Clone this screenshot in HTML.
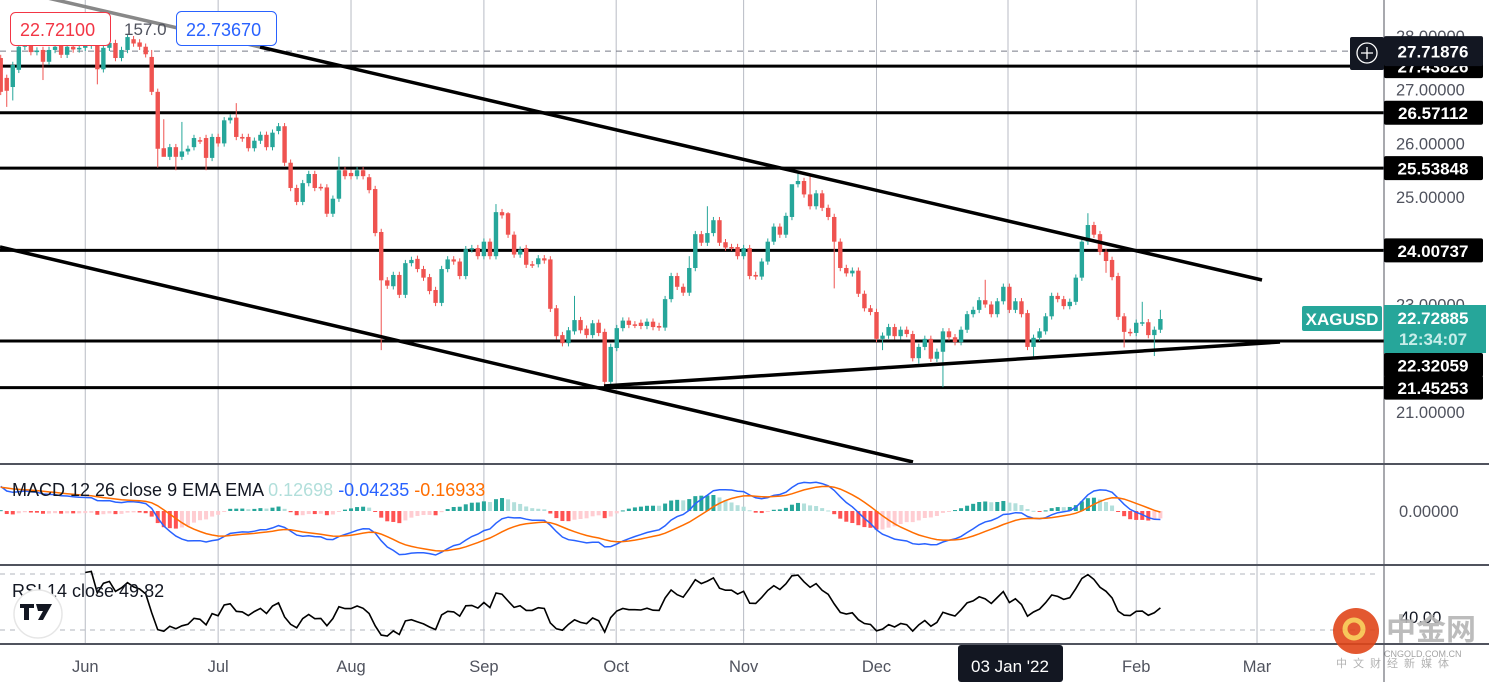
<!DOCTYPE html>
<html><head><meta charset="utf-8"><style>
html,body{margin:0;padding:0;background:#fff;}
svg{display:block;font-family:"Liberation Sans","Noto Sans CJK SC",sans-serif;}
</style></head><body>
<svg id="chart" width="1489" height="682" viewBox="0 0 1489 682" xmlns="http://www.w3.org/2000/svg">
<rect x="0" y="0" width="1489" height="682" fill="#ffffff"/>
<g id="grid"></g>
<g id="levels"></g>
<g id="candles"></g>
<g id="trend"></g>
<g id="macd"></g>
<g id="rsi"></g>
<g id="axis"></g>
<g id="timeaxis"></g>
<g id="overlay"></g>
</svg>
<script>
const opens=[27.59,27.22,27.05,27.37,27.80,27.83,27.70,27.74,27.52,27.74,27.83,27.65,27.80,27.75,27.78,27.82,27.87,27.38,27.78,27.87,27.59,27.74,27.94,27.88,27.80,
27.61,26.96,25.91,25.75,25.93,25.75,25.85,25.93,26.06,26.10,25.73,26.12,26.00,26.43,26.48,26.12,26.12,25.91,26.05,26.16,25.93,26.23,26.32,25.64,25.17,24.91,25.26,25.43,25.19,25.18,24.69,24.97,25.50,25.45,25.39,25.50,25.37,25.15,24.35,
23.45,23.34,23.55,23.18,23.77,23.85,23.66,23.51,23.27,23.03,23.66,23.84,23.80,23.53,24.03,24.05,23.90,24.17,23.90,24.72,24.70,24.30,23.93,24.05,23.75,23.75,23.86,23.84,22.93,22.43,22.28,22.50,22.71,22.55,22.43,22.66,22.49,21.56,22.19,22.56,22.70,22.63,22.66,22.60,22.68,22.60,22.57,23.10,23.53,23.33,23.22,23.68,24.31,24.15,24.33,24.57,24.16,24.07,24.07,23.90,24.05,23.55,23.52,23.80,
24.17,24.45,24.30,24.63,25.24,25.30,25.05,24.83,25.07,24.80,24.63,24.17,23.68,23.58,23.63,23.20,22.93,22.86,22.36,22.42,22.58,22.41,22.53,22.45,22.00,22.21,22.36,21.99,22.12,22.50,22.39,22.30,22.53,22.82,22.90,23.08,23.00,22.82,23.06,23.33,22.90,23.06,22.84,22.21,22.38,22.50,22.78,23.16,23.10,22.97,23.05,23.50,24.17,24.48,24.31,23.98,23.83,23.53,22.78,22.49,22.47,22.66,22.67,22.43,22.53];
const closes=[26.96,26.98,27.46,27.80,27.88,27.70,27.73,27.52,27.74,27.80,27.65,27.80,27.75,27.78,27.82,27.87,27.38,27.78,27.87,27.59,27.74,27.98,27.86,27.80,27.66,
26.96,25.90,25.75,25.93,25.75,25.85,25.90,26.10,26.05,25.73,26.12,26.00,26.43,26.48,26.12,26.09,25.91,26.05,26.16,25.93,26.20,26.32,25.64,25.17,24.91,25.26,25.43,25.17,25.18,24.69,24.97,25.50,25.39,25.39,25.50,25.39,25.13,24.33,23.45,
23.35,23.55,23.18,23.77,23.83,23.66,23.50,23.25,23.03,23.66,23.84,23.80,23.53,24.03,24.05,23.90,24.17,23.90,24.72,24.66,24.30,23.93,24.02,23.74,23.74,23.86,23.82,22.92,22.41,22.28,22.52,22.71,22.52,22.43,22.65,22.47,21.56,22.21,22.56,22.70,22.62,22.62,22.60,22.68,22.58,22.57,23.10,23.53,23.33,23.22,23.68,24.31,24.15,24.33,24.57,24.15,24.06,24.06,23.90,24.05,23.53,23.52,23.80,24.17,
24.45,24.30,24.65,25.24,25.30,25.05,24.83,25.07,24.80,24.63,24.17,23.68,23.58,23.63,23.20,22.93,22.86,22.36,22.42,22.58,22.41,22.53,22.45,22.00,22.21,22.36,21.99,22.12,22.50,22.39,22.30,22.53,22.82,22.90,23.08,23.00,22.82,23.06,23.33,22.90,23.06,22.82,22.21,22.38,22.50,22.78,23.16,23.10,22.97,23.05,23.50,24.17,24.48,24.30,23.98,23.81,23.51,22.77,22.49,22.47,22.66,22.67,22.43,22.53,22.73];
// notable wick extremes (index -> price); other candles use a small default wick
const highMarks={25:27.74,27:26.45,30:26.40,39:26.75,56:25.75,82:24.87,84:24.72,95:23.16,114:23.90,117:24.83,131:25.15,132:25.45,134:25.40,163:23.46,180:24.70,189:23.05,192:22.90};
const lowMarks={1:26.68,2:26.80,7:27.18,16:27.10,26:25.55,27:25.77,29:25.50,34:25.50,63:22.15,100:21.48,101:21.50,138:23.30,146:22.15,152:21.90,156:21.46,171:22.02,183:23.59,186:22.20,191:22.04};
const levelPrices=[27.43826,26.57112,25.53848,24.00737,22.32059,21.45253];
const levelLabels=["27.43826","26.57112","25.53848","24.00737","22.32059","21.45253"];
const priceTicks=[28,27,26,25,23,21];
const monthLabels=["Jun","Jul","Aug","Sep","Oct","Nov","Dec","Feb","Mar"];
const monthIdx=[14,36,58,80,101.9,123,145,188,208];

const NS="http://www.w3.org/2000/svg";
function el(tag,attrs,parent,txt){const e=document.createElementNS(NS,tag);for(const k in attrs)e.setAttribute(k,attrs[k]);if(txt!==undefined)e.textContent=txt;parent.appendChild(e);return e;}
const xI=i=>0.7+i*6.04;
const yP=p=>36+(28-p)*53.7;
const AX=1384;

// grid
const grid=document.getElementById('grid');
monthIdx.forEach((m,k)=>{
  const l=el('line',{x1:xI(m),x2:xI(m),y1:0,y2:644,stroke:'#b8bbc4','stroke-width':1},grid);
  
  
});
const gj=el('line',{x1:1008,x2:1008,y1:0,y2:644,stroke:'#b8bbc4','stroke-width':1},grid);



// levels
const lv=document.getElementById('levels');
const dash=el('line',{x1:0,x2:1350,y1:yP(27.71876),y2:yP(27.71876),stroke:'#787b86','stroke-width':1,'stroke-dasharray':'6,5'},lv);


levelPrices.forEach((p,k)=>{
  const l=el('line',{x1:0,x2:AX,y1:yP(p),y2:yP(p),stroke:'#000','stroke-width':3},lv);
  
  
});

// candles
const cg=document.getElementById('candles');
closes.forEach((c,i)=>{
  const o=opens[i];
  const hi=highMarks[i]!==undefined?highMarks[i]:Math.max(o,c)+0.06;
  const lo=lowMarks[i]!==undefined?lowMarks[i]:Math.min(o,c)-0.06;
  const col=c>=o?'#26a69a':'#ef5350';
  const x=xI(i);
  const g=el('g',{},cg);
  
  
  el('line',{x1:x,x2:x,y1:yP(hi),y2:yP(lo),stroke:col,'stroke-width':1},g);
  const y1=yP(Math.max(o,c)),y2=yP(Math.min(o,c));
  el('rect',{x:x-2.2,y:y1,width:4.4,height:Math.max(1.5,y2-y1),fill:col},g);
});

// trendlines
const tg=document.getElementById('trend');
const t1a=el('line',{x1:0,y1:-13,x2:260,y2:47,stroke:'#888','stroke-width':3.5},tg);


const t1=el('line',{x1:260,y1:47,x2:1262,y2:280,stroke:'#000','stroke-width':3.5},tg);


const t2=el('line',{x1:0,y1:247,x2:913,y2:462,stroke:'#000','stroke-width':3.5},tg);


const t3=el('line',{x1:604,y1:386,x2:1280,y2:342,stroke:'#000','stroke-width':3.5},tg);



// MACD
const mg=document.getElementById('macd');
let e12=27.6,e26=27.15,sig=0.35;const macdV=[],sigV=[],histV=[];
closes.forEach(c=>{e12+= (c-e12)*2/13;e26+=(c-e26)*2/27;const m=e12-e26;sig+=(m-sig)*0.2;macdV.push(m);sigV.push(sig);histV.push(m-sig);});
const mMin=Math.min(...macdV,...sigV),mMax=Math.max(...macdV,...sigV);
const mk=Math.min(44/Math.abs(Math.min(mMin,-0.01)),30/Math.max(mMax,0.01));
const yM=v=>511-v*mk;
histV.forEach((h,i)=>{
  const prev=i>0?histV[i-1]:h;
  let col;
  if(h>=0)col=h>=prev?'#26a69a':'#b2dfdb';else col=h<prev?'#ff5252':'#ffcdd2';
  const y0=yM(0),y1=yM(h);
  const r=el('rect',{x:xI(i)-2,y:Math.min(y0,y1),width:4,height:Math.max(1,Math.abs(y1-y0)),fill:col},mg);
  
  
});
const pth=arr=>arr.map((v,i)=>(i?'L':'M')+xI(i).toFixed(1)+','+yM(v).toFixed(1)).join('');
const ml=el('path',{d:pth(macdV),fill:'none',stroke:'#2962ff','stroke-width':1.5},mg);


const sl=el('path',{d:pth(sigV),fill:'none',stroke:'#ff6d00','stroke-width':1.5},mg);


const mleg=el('text',{x:12,y:496,'font-size':18,fill:'#131722'},mg);


el('tspan',{},mleg,'MACD 12 26 close 9 EMA EMA ');
el('tspan',{fill:'#b2dfdb'},mleg,' 0.12698 ');
el('tspan',{fill:'#2962ff'},mleg,' -0.04235 ');
el('tspan',{fill:'#ff6d00'},mleg,' -0.16933');

// RSI
const rg=document.getElementById('rsi');
const yR=v=>574+(70-v)*1.4;
[70,30].forEach(v=>{
  const l=el('line',{x1:0,x2:AX-4,y1:yR(v),y2:yR(v),stroke:'#b2b5be','stroke-width':1,'stroke-dasharray':'5,5'},rg);
  
  
});
let ag=0,al=0;const rsiV=[];
for(let i=1;i<closes.length;i++){
  const d=closes[i]-closes[i-1];const g=Math.max(d,0),l=Math.max(-d,0);
  if(i<=14){ag+=g/14;al+=l/14;if(i===14)rsiV.push([i,100-100/(1+ag/Math.max(al,1e-6))]);}
  else{ag=(ag*13+g)/14;al=(al*13+l)/14;rsiV.push([i,100-100/(1+ag/Math.max(al,1e-6))]);}
}
const rl=el('path',{d:rsiV.map((p,k)=>(k?'L':'M')+xI(p[0]).toFixed(1)+','+yR(p[1]).toFixed(1)).join(''),fill:'none',stroke:'#000','stroke-width':1.6},rg);


const rleg=el('text',{x:12,y:597,'font-size':18,fill:'#131722'},rg,'RSI 14 close  49.82');


const tvc=el('circle',{cx:38,cy:614,r:24,fill:'#fff',stroke:'#e6e6e6','stroke-width':1.5},rg);


el('path',{d:'M20,604h14v4h-5v12h-5v-12h-4z M36,604h16l-9,16h-5l5-9h-5z',fill:'#131722'},rg);

// separators & price axis
const ax=document.getElementById('axis');
[[464,2],[565,2],[644,2]].forEach(([y,w],k)=>{
  const l=el('line',{x1:0,x2:1489,y1:y,y2:y,stroke:'#50535e','stroke-width':w},ax);
  
  
});
const va=el('line',{x1:AX,x2:AX,y1:0,y2:682,stroke:'#50535e','stroke-width':1},ax);


priceTicks.forEach(p=>{
  const t=el('text',{x:1396,y:yP(p)+6,'font-size':16.5,fill:'#50535e'},ax,p.toFixed(5));
  
  
});
levelPrices.forEach((p,k)=>{
  let y=yP(p);
  if(levelLabels[k]==="22.32059")y+=24;
  const b=el('rect',{x:AX,y:y-12,width:99,height:24,rx:2,fill:'#000'},ax);
  
  
  const t=el('text',{x:1433,y:y+6.5,'font-size':17,'font-weight':'bold',fill:'#fff','text-anchor':'middle'},ax,levelLabels[k]);
  
  
});
const lpb=el('rect',{x:AX,y:yP(27.71876)-15,width:99,height:30,rx:2,fill:'#131722'},ax);


const lpt=el('text',{x:1433,y:yP(27.71876)+6.5,'font-size':17,'font-weight':'bold',fill:'#fff','text-anchor':'middle'},ax,'27.71876');


const plus=el('g',{},ax);


el('rect',{x:1350,y:37,width:34,height:33,rx:2,fill:'#131722'},plus);
el('circle',{cx:1367,cy:53,r:10,fill:'none',stroke:'#fff','stroke-width':1.3},plus);
el('path',{d:'M1361,53h12M1367,47v12',stroke:'#fff','stroke-width':1.3},plus);
const sym=el('g',{},ax);


el('rect',{x:1302,y:306,width:80,height:25,rx:2,fill:'#26a69a'},sym);
el('text',{x:1342,y:325,'font-size':17,'font-weight':'bold',fill:'#fff','text-anchor':'middle'},sym,'XAGUSD');
el('rect',{x:AX,y:305,width:102,height:48,fill:'#26a69a'},sym);
el('text',{x:1433,y:324,'font-size':17,'font-weight':'bold',fill:'#fff','text-anchor':'middle'},sym,'22.72885');
el('text',{x:1433,y:345,'font-size':17,'font-weight':'bold',fill:'#c8ede9','text-anchor':'middle'},sym,'12:34:07');
const m0=el('text',{x:1399,y:517,'font-size':16.5,fill:'#50535e'},ax,'0.00000');


const r40=el('text',{x:1400,y:623,'font-size':16.5,fill:'#131722'},ax,'40.00');



// time axis
const ta=document.getElementById('timeaxis');
monthIdx.forEach((m,k)=>{
  const t=el('text',{x:xI(m),y:672,'font-size':16.5,fill:'#50535e','text-anchor':'middle'},ta,monthLabels[k]);
  
  
});
const jb=el('rect',{x:958,y:645,width:105,height:37,rx:3,fill:'#131722'},ta);


const jt=el('text',{x:1010,y:672,'font-size':17,fill:'#fff','text-anchor':'middle'},ta,"03 Jan '22");



// overlay labels
const ov=document.getElementById('overlay');
const rb=el('g',{},ov);


el('rect',{x:10.5,y:12.5,width:100,height:33,rx:5,fill:'#fff',stroke:'#f23645','stroke-width':1},rb);
el('text',{x:20,y:36,'font-size':18,fill:'#f23645'},rb,'22.72100');
const vt=el('text',{x:124,y:35,'font-size':17,fill:'#50535e'},ov,'157.0');


const bb=el('g',{},ov);


el('rect',{x:176.5,y:11.5,width:100,height:34,rx:5,fill:'#fff',stroke:'#2962ff','stroke-width':1},bb);
el('text',{x:186,y:36,'font-size':18,fill:'#2962ff'},bb,'22.73670');
const wm=el('g',{opacity:0.9},ov);


el('circle',{cx:1356,cy:631,r:23,fill:'#e0461a'},wm);
el('circle',{cx:1354,cy:629,r:9,fill:'none',stroke:'#f7c24a','stroke-width':5},wm);
el('text',{x:1386,y:640,'font-size':30,'font-weight':'bold',fill:'#b5b5b5'},wm,'中金网');
el('text',{x:1384,y:657,'font-size':9,fill:'#999'},wm,'CNGOLD.COM.CN');
el('text',{x:1336,y:667,'font-size':11,fill:'#aaa','letter-spacing':'6'},wm,'中文财经新媒体');
</script>
</body></html>
